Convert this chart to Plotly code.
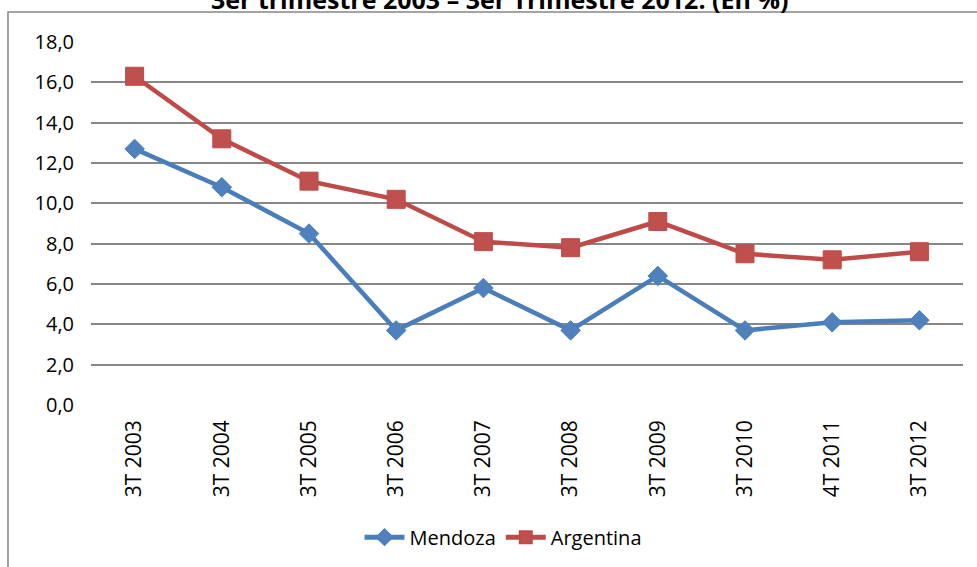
import plotly.graph_objects as go

categories = ["3T 2003", "3T 2004", "3T 2005", "3T 2006", "3T 2007",
              "3T 2008", "3T 2009", "3T 2010", "4T 2011", "3T 2012"]
mendoza = [12.7, 10.8, 8.5, 3.7, 5.8, 3.7, 6.4, 3.7, 4.1, 4.2]
argentina = [16.3, 13.2, 11.1, 10.2, 8.1, 7.8, 9.1, 7.5, 7.2, 7.6]
title_text = "3er trimestre 2003 – 3er Trimestre 2012. (En %)"

FONT = "Open Sans, Noto Sans, sans-serif"

fig = go.Figure()
fig.add_trace(go.Scatter(
    x=categories, y=mendoza, name="Mendoza", mode="lines+markers",
    line=dict(color="#4A7EBB", width=4.5),
    marker=dict(symbol="diamond", size=15, color="#4F81BD",
                line=dict(color="#4A7EBB", width=1)),
))
fig.add_trace(go.Scatter(
    x=categories, y=argentina, name="Argentina", mode="lines+markers",
    line=dict(color="#BE4B48", width=4.5),
    marker=dict(symbol="square", size=18, color="#C0504D",
                line=dict(color="#BE4B48", width=1)),
))

fig.update_layout(
    width=977, height=567,
    margin=dict(l=91, r=14, t=42, b=162, autoexpand=False),
    paper_bgcolor="white", plot_bgcolor="white",
    separators=",.",
    font=dict(family=FONT, size=20, color="black"),
    showlegend=True,
    legend=dict(orientation="h", x=0.4725, xanchor="center", y=-0.364,
                yanchor="middle", font=dict(family=FONT, size=20),
                bgcolor="rgba(0,0,0,0)", itemwidth=40, itemsizing="constant"),
    xaxis=dict(type="category", range=[-0.5, 9.5], showgrid=False,
               showline=False, zeroline=False, ticks="", tickangle=-90,
               ticklabelstandoff=10,
               tickfont=dict(family=FONT, size=21)),
    yaxis=dict(range=[0, 18], dtick=2, tick0=0, tickformat=".1f",
               showgrid=True, gridcolor="#878787", gridwidth=1.5,
               zeroline=False, showline=False, ticks="",
               ticklabelstandoff=16,
               tickfont=dict(family=FONT, size=20)),
    annotations=[dict(text="<b>" + title_text + "</b>", xref="paper", yref="paper",
                      x=0.4679, y=1.1198, xanchor="center", yanchor="middle",
                      showarrow=False, font=dict(family=FONT, size=25, color="black"))],
    shapes=[dict(type="rect", xref="paper", yref="paper",
                 x0=-0.0952, x1=1.03, y0=-0.48, y1=1.0826,
                 line=dict(color="#868686", width=1.5),
                 fillcolor="rgba(0,0,0,0)", layer="below")],
)

fig.write_html("out.html", config={"displayModeBar": False},
               post_script="document.body.style.margin='0';document.body.style.overflow='hidden';")
